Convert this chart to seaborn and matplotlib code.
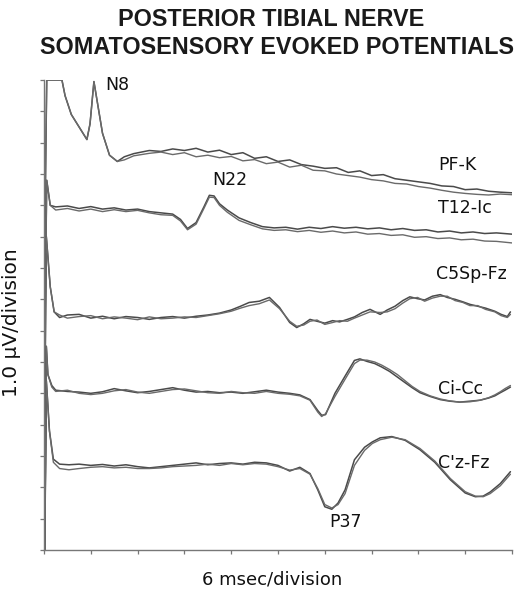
import matplotlib
matplotlib.use("Agg")
import matplotlib.pyplot as plt
import seaborn as sns

# --- data: time in ms, amplitude in divisions (1 uV/div) ---
# PF-K
pfk_t = [0.1, 0.35, 2.3, 2.7, 3.5, 4.5, 5.5, 5.9, 6.4, 6.9, 7.5, 8.4, 9.4, 10.3,
         11.5, 12.5, 13.5, 15, 16.5, 18, 19.5, 21, 22.5, 24, 25.5, 27, 28.5, 30,
         31.5, 33, 34.5, 36, 37.5, 39, 40.5, 42, 43.5, 45, 46.5, 48, 49.5, 51,
         52.5, 54, 55.5, 57, 58.5, 60]
pfk_a = [10.0, 15.0, 15.0, 14.5, 13.9, 13.5, 13.1, 13.6, 14.95, 14.2, 13.3, 12.6, 12.4, 12.55,
         12.65, 12.7, 12.75, 12.72, 12.8, 12.75, 12.82, 12.7, 12.76, 12.62, 12.68, 12.5, 12.55, 12.4,
         12.45, 12.3, 12.25, 12.18, 12.2, 12.05, 12.1, 11.95, 11.98, 11.85, 11.8, 11.75, 11.7, 11.62,
         11.6, 11.5, 11.52, 11.45, 11.42, 11.4]
pfk_b = [10.0, 15.0, 15.0, 14.5, 13.9, 13.5, 13.1, 13.6, 14.95, 14.2, 13.3, 12.6, 12.4, 12.45,
         12.58, 12.62, 12.66, 12.7, 12.62, 12.68, 12.55, 12.6, 12.52, 12.56, 12.42, 12.46, 12.33, 12.38,
         12.22, 12.28, 12.12, 12.1, 12.0, 11.95, 11.9, 11.82, 11.78, 11.7, 11.68, 11.6, 11.55, 11.48,
         11.42, 11.38, 11.35, 11.33, 11.36, 11.34]

# T12-Ic
t12_t = [0.1, 0.35, 0.8, 1.5, 3, 4.5, 6, 7.5, 9, 10.5, 12, 13.5, 15, 16.5,
         17.5, 18.4, 19.5, 20.5, 21.2, 21.8, 22.5, 23.5, 25, 26.5, 28, 29.5, 31, 32.5,
         34, 35.5, 37, 38.5, 40, 41.5, 43, 44.5, 46, 47.5, 49, 50.5, 52, 53.5, 55, 56.5, 58, 60]
t12_a = [6.5, 11.8, 11.0, 10.95, 10.98, 10.9, 10.96, 10.88, 10.92, 10.85, 10.88, 10.8, 10.76, 10.72,
         10.55, 10.26, 10.45, 10.95, 11.32, 11.3, 11.05, 10.85, 10.6, 10.45, 10.32, 10.28, 10.3, 10.24,
         10.3, 10.26, 10.32, 10.27, 10.3, 10.25, 10.28, 10.22, 10.26, 10.2, 10.22, 10.15, 10.18, 10.12,
         10.15, 10.1, 10.12, 10.08]
t12_b = [6.5, 11.8, 11.0, 10.85, 10.9, 10.82, 10.88, 10.8, 10.86, 10.8, 10.84, 10.76, 10.7, 10.68,
         10.5, 10.22, 10.4, 10.9, 11.26, 11.25, 11.0, 10.78, 10.52, 10.38, 10.25, 10.2, 10.22, 10.16,
         10.2, 10.14, 10.18, 10.12, 10.15, 10.08, 10.1, 10.04, 10.06, 9.98, 10.0, 9.94, 9.96, 9.9,
         9.92, 9.86, 9.85, 9.8]

# C5Sp-Fz
c5_t = [0.1, 0.3, 0.8, 1.3, 2.0, 3, 4.5, 6, 7.5, 9, 10.5, 12, 13.5, 15, 16.5, 18, 19.5, 21,
        22.5, 24, 25.2, 26.3, 27.6, 28.9, 30.2, 31.5, 32.4, 33.3, 34.1, 35, 36, 37, 37.9,
        38.9, 39.8, 40.8, 41.8, 43.1, 44, 45, 46, 46.9, 47.9, 48.8, 49.8, 50.8, 51.7, 52.7,
        53.7, 54.6, 55.6, 56.6, 57.8, 58.6, 59.4, 59.8]
c5_a = [4.5, 10.0, 8.4, 7.6, 7.42, 7.5, 7.52, 7.4, 7.46, 7.38, 7.45, 7.42, 7.36, 7.42, 7.45, 7.4,
        7.46, 7.5, 7.56, 7.66, 7.78, 7.9, 7.94, 8.06, 7.74, 7.26, 7.1, 7.22, 7.36, 7.3, 7.24,
        7.32, 7.28, 7.36, 7.44, 7.58, 7.68, 7.52, 7.66, 7.78, 7.96, 8.08, 8.02, 7.98, 8.1, 8.15,
        8.06, 8.0, 7.92, 7.84, 7.78, 7.72, 7.62, 7.52, 7.45, 7.6]
c5_b = [4.5, 10.0, 8.4, 7.6, 7.5, 7.4, 7.45, 7.48, 7.38, 7.44, 7.4, 7.35, 7.44, 7.38, 7.4, 7.44,
        7.42, 7.48, 7.54, 7.62, 7.72, 7.8, 7.86, 7.98, 7.7, 7.3, 7.14, 7.18, 7.3, 7.34, 7.2,
        7.26, 7.32, 7.3, 7.4, 7.5, 7.6, 7.58, 7.6, 7.7, 7.88, 8.02, 8.06, 7.94, 8.04, 8.1,
        8.1, 7.96, 7.9, 7.8, 7.8, 7.68, 7.6, 7.48, 7.42, 7.52]

# Ci-Cc
ci_t = [0.1, 0.3, 0.5, 1.0, 1.5, 3, 4.5, 6, 7.5, 9, 10.5, 12, 13.5, 15, 16.5, 18, 19.5, 21,
        22.5, 24, 25.5, 27, 28.5, 30, 31.5, 32.8, 34.1, 35.1, 35.6, 36.1, 37.3, 38.6, 39.8,
        40.5, 41.4, 42.4, 43.3, 44.3, 45.3, 46.3, 47.2, 48.2, 49.5, 50.8, 52, 53.3, 54.6,
        55.9, 57, 57.8, 58.5, 59.1, 59.8]
ci_a = [0.0, 6.5, 5.6, 5.25, 5.1, 5.06, 5.04, 5.0, 5.05, 5.15, 5.08, 5.02, 5.06, 5.12, 5.18,
        5.1, 5.04, 5.06, 5.02, 5.04, 5.0, 5.05, 5.1, 5.04, 5.0, 4.95, 4.8, 4.45, 4.3, 4.32,
        5.0, 5.55, 6.05, 6.1, 6.02, 5.95, 5.84, 5.7, 5.52, 5.34, 5.18, 5.02, 4.9, 4.8, 4.75,
        4.72, 4.75, 4.78, 4.85, 4.92, 5.02, 5.1, 5.2]
ci_b = [0.0, 6.5, 5.6, 5.2, 5.06, 5.1, 5.0, 4.96, 5.0, 5.08, 5.12, 5.04, 5.0, 5.06, 5.12,
        5.14, 5.08, 5.02, 5.0, 5.06, 5.02, 5.0, 5.06, 5.0, 4.97, 4.92, 4.78, 4.4, 4.26, 4.35,
        4.9, 5.45, 5.95, 6.06, 6.06, 6.0, 5.9, 5.76, 5.6, 5.4, 5.22, 5.06, 4.92, 4.82, 4.76,
        4.72, 4.73, 4.78, 4.86, 4.95, 5.05, 5.15, 5.25]

# C'z-Fz
cz_t = [0.1, 0.3, 0.7, 1.2, 2.0, 3.2, 4.5, 6, 7.5, 9, 10.5, 12, 13.5, 15, 16.5, 18, 19.5,
        21, 22.5, 24, 25.5, 27, 28.5, 30, 31.5, 32.8, 34.1, 35.1, 36, 36.9, 37.7, 38.6,
        39.8, 41.1, 42.1, 43.1, 44.6, 46.3, 48.2, 50.1, 52.1, 54, 55.3, 56.3, 57.2, 58.5, 59.8]
cz_a = [0.0, 5.4, 3.8, 2.9, 2.74, 2.72, 2.74, 2.7, 2.73, 2.68, 2.72, 2.66, 2.62, 2.66, 2.7,
        2.74, 2.78, 2.72, 2.76, 2.78, 2.74, 2.8, 2.78, 2.7, 2.52, 2.64, 2.44, 1.92, 1.38, 1.3,
        1.5, 1.92, 2.88, 3.28, 3.45, 3.58, 3.62, 3.5, 3.2, 2.8, 2.24, 1.82, 1.7, 1.72, 1.85,
        2.12, 2.5]
cz_b = [0.0, 5.4, 3.8, 2.8, 2.6, 2.56, 2.6, 2.64, 2.66, 2.62, 2.64, 2.6, 2.6, 2.62, 2.66,
        2.68, 2.7, 2.74, 2.7, 2.76, 2.72, 2.76, 2.74, 2.66, 2.55, 2.6, 2.42, 1.96, 1.45, 1.34,
        1.45, 1.8, 2.7, 3.18, 3.4, 3.52, 3.6, 3.52, 3.24, 2.84, 2.28, 1.86, 1.72, 1.7, 1.8,
        2.05, 2.42]

channels = ["PF-K", "T12-Ic", "C5Sp-Fz", "Ci-Cc", "C'z-Fz"]
traces = [(pfk_t, pfk_a, pfk_b), (t12_t, t12_a, t12_b), (c5_t, c5_a, c5_b),
          (ci_t, ci_a, ci_b), (cz_t, cz_a, cz_b)]

peaks = ["N8", "N22", "P37"]

sns.set_style("white")
plt.rcParams['font.family'] = ['Liberation Sans', 'DejaVu Sans']
label_font = ['DejaVu Sans']

fig = plt.figure(figsize=(5.2, 5.97), dpi=100)
ax = fig.add_axes([44 / 520, 1 - 550 / 597, 468 / 520, 470 / 597])

for t, a, b in traces:
    sns.lineplot(x=t, y=a, ax=ax, color="#4a4a4a", lw=1.1, estimator=None, sort=False)
    sns.lineplot(x=t, y=b, ax=ax, color="#6a6a6a", lw=1.0, estimator=None, sort=False)

ax.set_xlim(0, 60)
ax.set_ylim(0, 15)
ax.set_xticks(range(0, 61, 6))
ax.set_yticks(range(0, 16))
ax.set_xticklabels([])
ax.set_yticklabels([])
ax.tick_params(left=True, bottom=True, direction="out", length=3, width=0.9,
               color="#777777")
for side in ["top", "right"]:
    ax.spines[side].set_visible(False)
for side in ["left", "bottom"]:
    ax.spines[side].set_color("#777777")
    ax.spines[side].set_linewidth(1.0)

# channel names
name_pos = [(50.5, 12.3), (50.5, 10.9), (50.3, 8.8), (50.5, 5.15), (50.5, 2.78)]
for name, (x, y) in zip(channels, name_pos):
    ax.text(x, y, name, fontsize=12.5, family=label_font, color="#111111",
            va="center", ha="left")

peak_pos = [(7.8, 14.85), (21.6, 11.8), (36.6, 0.9)]
for name, (x, y) in zip(peaks, peak_pos):
    ax.text(x, y, name, fontsize=12.5, family=label_font, color="#111111",
            va="center", ha="left")

fig.text(0.522, 1 - 20 / 597, "POSTERIOR TIBIAL NERVE", fontsize=16.8, fontweight="bold",
         ha="center", va="center", color="#1a1a1a")
fig.text(0.532, 1 - 47 / 597, "SOMATOSENSORY EVOKED POTENTIALS", fontsize=16.8,
         fontweight="bold", ha="center", va="center", color="#1a1a1a")
fig.text(12 / 520, 1 - 323 / 597, "1.0 \u00b5V/division", fontsize=14.5, rotation=90,
         family=label_font, ha="center", va="center", color="#111111")
fig.text(272 / 520, 1 - 580 / 597, "6 msec/division", fontsize=13, family=label_font,
         ha="center", va="center", color="#111111")

fig.savefig("out.png", dpi=100)
